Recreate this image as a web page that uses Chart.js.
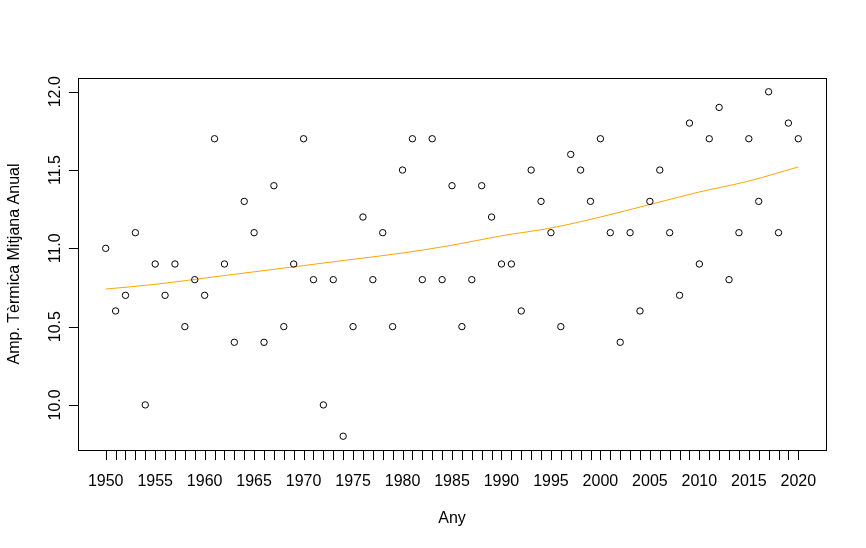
<!DOCTYPE html>
<html>
<head>
<meta charset="utf-8">
<script src="https://cdn.jsdelivr.net/npm/chart.js@4.4.0/dist/chart.umd.min.js"></script>
<style>
  html, body { margin: 0; padding: 0; background: #fff; }
  #wrap { width: 866px; height: 548px; }
</style>
</head>
<body>
<div id="wrap"><canvas id="ampChart" width="866" height="548"></canvas></div>
<script>
// years and annual mean thermal amplitude
var years = [1950, 1951, 1952, 1953, 1954, 1955, 1956, 1957, 1958, 1959,
  1960, 1961, 1962, 1963, 1964, 1965, 1966, 1967, 1968, 1969,
  1970, 1971, 1972, 1973, 1974, 1975, 1976, 1977, 1978, 1979,
  1980, 1981, 1982, 1983, 1984, 1985, 1986, 1987, 1988, 1989,
  1990, 1991, 1992, 1993, 1994, 1995, 1996, 1997, 1998, 1999,
  2000, 2001, 2002, 2003, 2004, 2005, 2006, 2007, 2008, 2009,
  2010, 2011, 2012, 2013, 2014, 2015, 2016, 2017, 2018, 2019, 2020];
var amplitude = [11.0, 10.6, 10.7, 11.1, 10.0, 10.9, 10.7, 10.9, 10.5, 10.8,
  10.7, 11.7, 10.9, 10.4, 11.3, 11.1, 10.4, 11.4, 10.5, 10.9,
  11.7, 10.8, 10.0, 10.8, 9.8, 10.5, 11.2, 10.8, 11.1, 10.5,
  11.5, 11.7, 10.8, 11.7, 10.8, 11.4, 10.5, 10.8, 11.4, 11.2,
  10.9, 10.9, 10.6, 11.5, 11.3, 11.1, 10.5, 11.6, 11.5, 11.3,
  11.7, 11.1, 10.4, 11.1, 10.6, 11.3, 11.5, 11.1, 10.7, 11.8,
  10.9, 11.7, 11.9, 10.8, 11.1, 11.7, 11.3, 12.0, 11.1, 11.8, 11.7];

// smoothed trend (orange line), read every 5 years
var trendYears = [1950, 1955, 1960, 1965, 1970, 1975, 1980, 1985, 1990, 1995, 2000, 2005, 2010, 2015, 2020];
var trendValues = [10.74, 10.77, 10.81, 10.85, 10.89, 10.93, 10.97, 11.02, 11.08, 11.13, 11.20, 11.28, 11.36, 11.43, 11.52];

// axis ticks
var xLabelTicks = [1950, 1955, 1960, 1965, 1970, 1975, 1980, 1985, 1990, 1995, 2000, 2005, 2010, 2015, 2020];
var yTicks = [10.0, 10.5, 11.0, 11.5, 12.0];
var yTickLabels = ['10.0', '10.5', '11.0', '11.5', '12.0'];

var FONT = '16px "Liberation Sans", Arial, sans-serif';

// base R style frame, ticks and titles
var rAxes = {
  id: 'rAxes',
  afterDraw: function (chart) {
    var ctx = chart.ctx;
    var a = chart.chartArea;
    var xs = chart.scales.x, ys = chart.scales.y;
    var tick = 9.6;
    ctx.save();
    ctx.strokeStyle = '#000';
    ctx.fillStyle = '#000';
    ctx.lineWidth = 1;

    // box
    ctx.strokeRect(Math.round(a.left) + 0.5, Math.round(a.top) + 0.5,
      Math.round(a.right - a.left), Math.round(a.bottom - a.top));

    // x ticks, one per year
    var yb = Math.round(a.bottom) + 0.5;
    ctx.beginPath();
    years.forEach(function (yr) {
      var px = Math.round(xs.getPixelForValue(yr)) + 0.5;
      ctx.moveTo(px, yb);
      ctx.lineTo(px, yb + tick);
    });
    ctx.stroke();

    ctx.font = FONT;
    ctx.textAlign = 'center';
    ctx.textBaseline = 'alphabetic';
    xLabelTicks.forEach(function (yr) {
      ctx.fillText(String(yr), xs.getPixelForValue(yr), 486);
    });

    // y ticks
    var xl = Math.round(a.left) + 0.5;
    ctx.beginPath();
    yTicks.forEach(function (v) {
      var py = Math.round(ys.getPixelForValue(v)) + 0.5;
      ctx.moveTo(xl, py);
      ctx.lineTo(xl - tick, py);
    });
    ctx.stroke();

    yTicks.forEach(function (v, i) {
      ctx.save();
      ctx.translate(60, ys.getPixelForValue(v));
      ctx.rotate(-Math.PI / 2);
      ctx.fillText(yTickLabels[i], 0, 0);
      ctx.restore();
    });

    // axis titles
    ctx.fillText('Any', (a.left + a.right) / 2, 523);
    ctx.save();
    ctx.translate(19, (a.top + a.bottom) / 2);
    ctx.rotate(-Math.PI / 2);
    ctx.fillText('Amp. Tèrmica Mitjana Anual', 0, 0);
    ctx.restore();

    ctx.restore();
  }
};

var points = years.map(function (yr, i) { return { x: yr, y: amplitude[i] }; });
var trend = trendYears.map(function (yr, i) { return { x: yr, y: trendValues[i] }; });

new Chart(document.getElementById('ampChart'), {
  type: 'scatter',
  data: {
    datasets: [{
      label: 'Amp. Tèrmica Mitjana Anual',
      data: points,
      pointStyle: 'circle',
      pointRadius: 3.2,
      pointBorderWidth: 1,
      pointBorderColor: '#000',
      pointBackgroundColor: 'rgba(0,0,0,0)',
      showLine: false
    }, {
      label: 'tendència',
      data: trend,
      showLine: true,
      borderColor: '#FFA500',
      borderWidth: 1,
      pointRadius: 0,
      cubicInterpolationMode: 'monotone',
      fill: false
    }]
  },
  options: {
    responsive: false,
    animation: false,
    devicePixelRatio: 1,
    layout: { padding: { left: 78, right: 40, top: 78, bottom: 98 } },
    plugins: { legend: { display: false }, tooltip: { enabled: false } },
    scales: {
      x: { type: 'linear', min: 1947.2, max: 2022.8, display: false },
      y: { type: 'linear', min: 9.712, max: 12.088, display: false }
    }
  },
  plugins: [rAxes]
});
</script>
</body>
</html>
